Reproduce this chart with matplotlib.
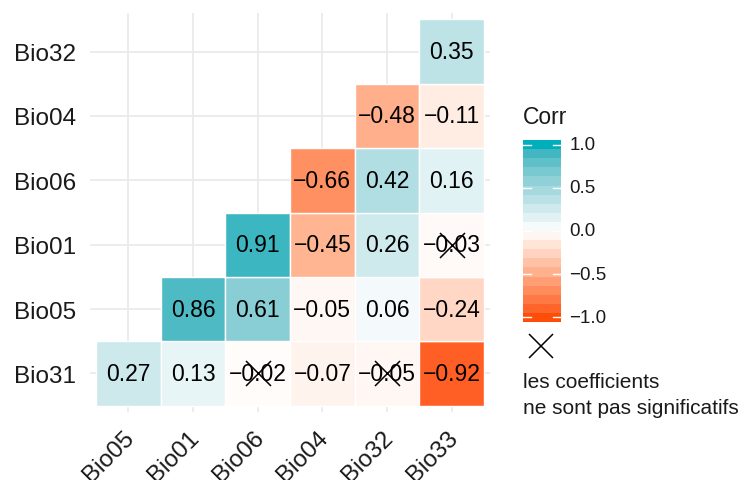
import numpy as np
import matplotlib
matplotlib.use("Agg")
import matplotlib.pyplot as plt
from matplotlib.patches import Rectangle
from matplotlib.lines import Line2D
from matplotlib.transforms import ScaledTranslation

plt.rcParams['font.family'] = ['Liberation Sans', 'DejaVu Sans']

# ---------------- data ----------------
col_labels = ["Bio05", "Bio01", "Bio06", "Bio04", "Bio32", "Bio33"]
row_labels = ["Bio31", "Bio05", "Bio01", "Bio06", "Bio04", "Bio32"]  # bottom -> top
nan = np.nan
corr_bio31 = [0.27, 0.13, -0.02, -0.07, -0.05, -0.92]
corr_bio05 = [nan, 0.86, 0.61, -0.05, 0.06, -0.24]
corr_bio01 = [nan, nan, 0.91, -0.45, 0.26, -0.03]
corr_bio06 = [nan, nan, nan, -0.66, 0.42, 0.16]
corr_bio04 = [nan, nan, nan, nan, -0.48, -0.11]
corr_bio32 = [nan, nan, nan, nan, nan, 0.35]
insig_bio31 = [False, False, True, False, True, False]
insig_bio05 = [False] * 6
insig_bio01 = [False, False, False, False, False, True]
insig_bio06 = [False] * 6
insig_bio04 = [False] * 6
insig_bio32 = [False] * 6
legend_ticks = [-1.0, -0.5, 0.0, 0.5, 1.0]

corr = np.array([corr_bio31, corr_bio05, corr_bio01, corr_bio06, corr_bio04, corr_bio32])
insig = np.array([insig_bio31, insig_bio05, insig_bio01, insig_bio06, insig_bio04, insig_bio32])

LOW, MID, HIGH = "#FC4E07", "#FFFFFF", "#00AFBB"

# ---------------- Lab gradient (like ggplot scale_fill_gradient2) ----------------
M = np.array([[0.4124564, 0.3575761, 0.1804375],
              [0.2126729, 0.7151522, 0.0721750],
              [0.0193339, 0.1191920, 0.9503041]])
WN = np.array([0.95047, 1.0, 1.08883])


def hex2rgb(h):
    h = h.lstrip('#')
    return np.array([int(h[i:i + 2], 16) / 255 for i in (0, 2, 4)])


def rgb2lab(c):
    lin = np.where(c <= 0.04045, c / 12.92, ((c + 0.055) / 1.055) ** 2.4)
    xyz = M @ lin / WN
    d = 6 / 29
    f = np.where(xyz > d ** 3, np.cbrt(xyz), xyz / (3 * d * d) + 4 / 29)
    return np.array([116 * f[1] - 16, 500 * (f[0] - f[1]), 200 * (f[1] - f[2])])


def lab2rgb(lab):
    L, a, b = lab
    fy = (L + 16) / 116
    fx = fy + a / 500
    fz = fy - b / 200
    d = 6 / 29
    f = np.array([fx, fy, fz])
    xyz = np.where(f > d, f ** 3, 3 * d * d * (f - 4 / 29)) * WN
    lin = np.linalg.solve(M, xyz)
    lin = np.clip(lin, 0, 1)
    c = np.where(lin <= 0.0031308, 12.92 * lin, 1.055 * lin ** (1 / 2.4) - 0.055)
    return np.clip(c, 0, 1)


LAB_LOW, LAB_MID, LAB_HIGH = rgb2lab(hex2rgb(LOW)), rgb2lab(hex2rgb(MID)), rgb2lab(hex2rgb(HIGH))


def fill(v):
    if v >= 0:
        return lab2rgb(LAB_MID + (LAB_HIGH - LAB_MID) * v)
    return lab2rgb(LAB_MID + (LAB_LOW - LAB_MID) * (-v))


def fmt(v, nd=2):
    return f"{v:.{nd}f}".replace("-", "\u2212")


# ---------------- figure ----------------
W, H = 742, 481
fig = plt.figure(figsize=(W / 100, H / 100), dpi=100)
ax = fig.add_axes([90 / W, 1 - 413 / H, 400 / W, 399 / H])

n_r, n_c = corr.shape
for i in range(n_r):
    for j in range(n_c):
        v = corr[i, j]
        if np.isnan(v):
            continue
        ax.add_patch(Rectangle((j - 0.5, i - 0.5), 1, 1, facecolor=fill(v),
                               edgecolor="white", linewidth=1.0, zorder=2))
        ax.text(j, i, fmt(v), ha="center", va="center", fontsize=16.5,
                color="black", zorder=3)
        if insig[i, j]:
            ax.plot(j, i, marker="x", markersize=18, mew=1.1, color="black", zorder=4)

ax.set_xlim(-0.593, n_c - 1 + 0.593)
ax.set_ylim(-0.6, n_r - 1 + 0.6)
ax.set_xticks(range(n_c))
ax.set_yticks(range(n_r))
ax.set_xticklabels(col_labels, rotation=45, ha="right", va="top",
                   rotation_mode="anchor", fontsize=17.5, color="#1A1A1A")
ax.set_yticklabels(row_labels, fontsize=17.5, color="#1A1A1A")
ax.tick_params(length=0, pad=10)
ax.tick_params(axis="x", pad=9)
off = ScaledTranslation(-5 / 100, -2 / 100, fig.dpi_scale_trans)
for lab in ax.get_xticklabels():
    lab.set_transform(lab.get_transform() + off)
ax.grid(True, color="#EBEBEB", linewidth=1.3, zorder=0)
ax.set_axisbelow(True)
for s in ax.spines.values():
    s.set_visible(False)

# ---------------- legend ----------------
fig.text(523 / W, 1 - 118 / H, "Corr", fontsize=16.5, ha="left", va="center", color="#1A1A1A")
cax = fig.add_axes([523 / W, 1 - 323 / H, 38 / W, 182 / H])
nbin = 20
centers = np.linspace(-1, 1, nbin)
step = 2 / (nbin - 1)
for c in centers:
    cax.add_patch(Rectangle((0, c - step / 2), 1, step, facecolor=fill(c),
                            edgecolor="none", linewidth=0))
for t in legend_ticks:
    cax.plot([0, 0.2], [t, t], color="white", lw=1.0)
    cax.plot([0.8, 1], [t, t], color="white", lw=1.0)
    cax.text(1.22, t, fmt(t, 1), ha="left", va="center",
             fontsize=13.5, color="#1A1A1A")
cax.set_xlim(0, 1)
cax.set_ylim(-1 - step / 2, 1 + step / 2)
cax.axis("off")

fig.lines.append(Line2D([541 / W], [1 - 347 / H], marker="x", markersize=17, mew=1.1,
                        color="black", transform=fig.transFigure))
fig.text(523 / W, 1 - 382 / H, "les coefficients", fontsize=15, ha="left",
         va="center", color="#1A1A1A")
fig.text(523 / W, 1 - 408 / H, "ne sont pas significatifs", fontsize=15, ha="left",
         va="center", color="#1A1A1A")

fig.savefig("out.png", dpi=100, facecolor="white")
